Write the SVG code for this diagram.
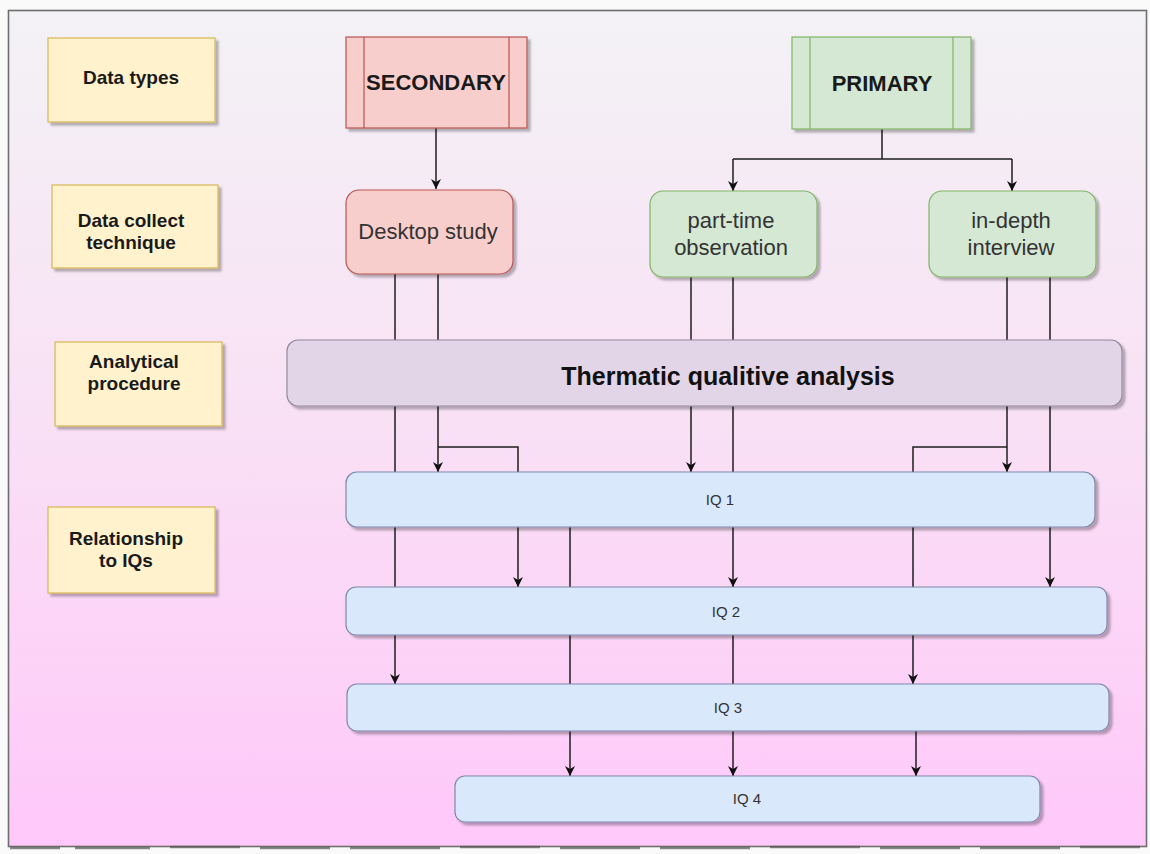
<svg xmlns="http://www.w3.org/2000/svg" width="1150" height="854" viewBox="0 0 1150 854">
  <defs>
    <linearGradient id="bg" x1="0" y1="0" x2="0" y2="1">
      <stop offset="0" stop-color="#f3f2f5"/>
      <stop offset="0.5" stop-color="#f9e0f5"/>
      <stop offset="1" stop-color="#ffc8fa"/>
    </linearGradient>
    <filter id="sh" x="-5%" y="-10%" width="115%" height="130%">
      <feDropShadow dx="3" dy="3" stdDeviation="1.2" flood-color="#000" flood-opacity="0.28"/>
    </filter>
    <marker id="arr" markerUnits="userSpaceOnUse" markerWidth="11" markerHeight="11" refX="10" refY="5.5" orient="auto">
      <path d="M0,0.5 L10,5.5 L0,10.5 L3,5.5 z" fill="#111"/>
    </marker>
    <style>
      .lbl rect { fill: #fff2cc; stroke: #d6b656; stroke-width: 1.2; filter: url(#sh); }
      .lbl text { font-family: "Liberation Sans", Arial, sans-serif; font-weight: bold; font-size: 19px; fill: #1a1a1a; text-anchor: middle; }
      .sec rect { fill: #f8cecc; stroke: #b85450; stroke-width: 1.2; }
      .pri rect { fill: #d5e8d4; stroke: #82b366; stroke-width: 1.2; }
      .shd { filter: url(#sh); }
      .sec line { stroke: #b85450; stroke-width: 1.2; }
      .pri line { stroke: #82b366; stroke-width: 1.2; }
      .big { font-family: "Liberation Sans", Arial, sans-serif; font-weight: bold; font-size: 22px; fill: #1a1a1a; text-anchor: middle; }
      .tech { font-family: "Liberation Sans", Arial, sans-serif; font-size: 22px; fill: #333; text-anchor: middle; }
      .ana rect { fill: #e1d5e7; stroke: #948aa0; stroke-width: 1.2; filter: url(#sh); }
      .ana text { font-family: "Liberation Sans", Arial, sans-serif; font-weight: bold; font-size: 25px; fill: #111; text-anchor: middle; }
      .iq rect { fill: #dae8fc; stroke: #7f88a8; stroke-width: 1.2; filter: url(#sh); }
      .iq text { font-family: "Liberation Sans", Arial, sans-serif; font-size: 15px; fill: #333; text-anchor: middle; }
      .conn path { fill: none; stroke: #1e1e1e; stroke-width: 1.5; }
      .conn .a { marker-end: url(#arr); }
    </style>
  </defs>

  <rect x="0" y="0" width="1150" height="854" fill="#fafafa"/>
  <rect x="8.5" y="10.5" width="1138" height="836" fill="url(#bg)" stroke="#6e6e6e" stroke-width="1.6"/>
  <path d="M10 848 H60 M75 848 H150 M170 847 H240 M260 848 H330 M350 848 H440 M460 847 H540 M560 848 H640 M660 848 H750 M770 847 H860 M880 848 H960 M980 848 H1060 M1080 847 H1140" stroke="#555" stroke-width="2.5" fill="none" opacity="0.7"/>

  <g id="connectors" class="conn">
    <path class="a" d="M436 128 V189"/>
    <path d="M882 129 V159 H733 M882 159 H1012"/>
    <path class="a" d="M733 159 V191"/>
    <path class="a" d="M1012 159 V191"/>
    <path class="a" d="M395 274 V684"/>
    <path class="a" d="M438 274 V472"/>
    <path class="a" d="M438 447 H518 V587"/>
    <path class="a" d="M570 527 V776"/>
    <path class="a" d="M691 277 V472"/>
    <path class="a" d="M733 277 V587"/>
    <path class="a" d="M733 635 V776"/>
    <path class="a" d="M1007 277 V472"/>
    <path class="a" d="M1007 447 H913 V684"/>
    <path class="a" d="M916 731 V776"/>
    <path class="a" d="M1050 277 V587"/>
  </g>

  <g id="lbl-data-types" class="lbl">
    <rect x="48" y="38" width="167" height="84"/>
    <text x="131" y="84">Data types</text>
  </g>
  <g id="lbl-collect" class="lbl">
    <rect x="52" y="185" width="166" height="83"/>
    <text x="131" y="227">Data collect</text>
    <text x="131" y="249">technique</text>
  </g>
  <g id="lbl-analytical" class="lbl">
    <rect x="55" y="342" width="167" height="84"/>
    <text x="134" y="368">Analytical</text>
    <text x="134" y="390">procedure</text>
  </g>
  <g id="lbl-relationship" class="lbl">
    <rect x="48" y="507" width="167" height="86"/>
    <text x="126" y="545">Relationship</text>
    <text x="126" y="567">to IQs</text>
  </g>

  <g id="secondary" class="sec">
    <rect class="shd" x="346" y="37" width="181" height="91"/>
    <line x1="364" y1="37" x2="364" y2="128"/>
    <line x1="509" y1="37" x2="509" y2="128"/>
    <text class="big" x="436" y="90">SECONDARY</text>
  </g>
  <g id="primary" class="pri">
    <rect class="shd" x="792" y="37" width="179" height="92"/>
    <line x1="810" y1="37" x2="810" y2="129"/>
    <line x1="953" y1="37" x2="953" y2="129"/>
    <text class="big" x="882" y="91">PRIMARY</text>
  </g>

  <g id="desktop" class="sec">
    <rect class="shd" x="346" y="190" width="167" height="84" rx="13"/>
    <text class="tech" x="428" y="239">Desktop study</text>
  </g>
  <g id="observation" class="pri">
    <rect class="shd" x="650" y="191" width="167" height="86" rx="13"/>
    <text class="tech" x="731" y="228">part-time</text>
    <text class="tech" x="731" y="255">observation</text>
  </g>
  <g id="interview" class="pri">
    <rect class="shd" x="929" y="191" width="167" height="86" rx="13"/>
    <text class="tech" x="1011" y="228">in-depth</text>
    <text class="tech" x="1011" y="255">interview</text>
  </g>

  <g id="analysis" class="ana">
    <rect x="287" y="340" width="835" height="66" rx="11"/>
    <text x="728" y="385">Thermatic qualitive analysis</text>
  </g>

  <g id="iq1" class="iq">
    <rect x="346" y="472" width="749" height="55" rx="11"/>
    <text x="720" y="505">IQ 1</text>
  </g>
  <g id="iq2" class="iq">
    <rect x="346" y="587" width="761" height="48" rx="10"/>
    <text x="726" y="617">IQ 2</text>
  </g>
  <g id="iq3" class="iq">
    <rect x="347" y="684" width="762" height="47" rx="10"/>
    <text x="728" y="713">IQ 3</text>
  </g>
  <g id="iq4" class="iq">
    <rect x="455" y="776" width="585" height="46" rx="10"/>
    <text x="747" y="804">IQ 4</text>
  </g>
</svg>
